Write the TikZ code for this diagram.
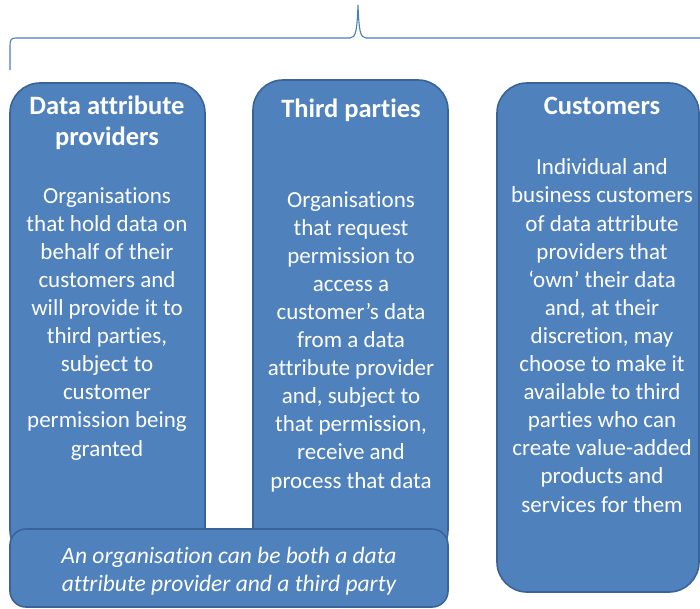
\documentclass[tikz,border=0pt]{standalone}
\usepackage{fontspec}
\setmainfont[Ligatures=NoCommon]{Carlito}
\definecolor{cardfill}{HTML}{4F81BD}
\definecolor{cardline}{HTML}{3A639A}
\definecolor{bracecol}{HTML}{4A7EBB}
\begin{document}
\begin{tikzpicture}[x=1pt,y=-1pt,
  card/.style={fill=cardfill,draw=cardline,line width=1.6pt,rounded corners=30pt},
  notecard/.style={fill=cardfill,draw=cardline,line width=1.6pt,rounded corners=16pt},
  titletext/.style={text=white,align=center,inner sep=0pt,anchor=base,font=\fontsize{26.5}{31}\selectfont\bfseries},
  bodytext/.style={text=white,align=center,inner sep=0pt,anchor=base,font=\fontsize{23}{28.1}\selectfont},
  notetext/.style={text=white,align=center,inner sep=0pt,anchor=base,font=\fontsize{23.5}{28}\selectfont\itshape}]
\useasboundingbox (0,0) rectangle (700,608);
% brace
\coordinate (bl) at (10,70);
\coordinate (bt) at (358,5);
\coordinate (br) at (702,38);
\draw[bracecol,line width=1.1pt] (bl) -- (10,46) .. controls (10,40) and (11,38) .. (16,38)
  -- (350,38) .. controls (356,38) and (357,30) .. (bt)
  .. controls (359,30) and (360,38) .. (366,38) -- (br);
% cards
\path[card] (10,83) rectangle (205,560);
\path[card] (253,80) rectangle (448,560);
\path[card] (497,83) rectangle (699,592);
\path[notecard] (10,529) rectangle (448,607);
% texts (base anchor = baseline of the last line)
\node[titletext] (t1) at (107,145) {Data attribute\\providers};
\node[bodytext] (b1) at (107,456) {Organisations\\that hold data on\\behalf of their\\customers and\\will provide it to\\third parties,\\subject to\\customer\\permission being\\granted};
\node[titletext] (t2) at (351,117) {Third parties};
\node[bodytext] (b2) at (351,488) {Organisations\\that request\\permission to\\access a\\customer’s data\\from a data\\attribute provider\\and, subject to\\that permission,\\receive and\\process that data};
\node[titletext] (t3) at (602,114) {Customers};
\node[bodytext] (b3) at (602,512) {Individual and\\business customers\\of data attribute\\providers that\\‘own’ their data\\and, at their\\discretion, may\\choose to make it\\available to third\\parties who can\\create value-added\\products and\\services for them};
\node[notetext] (n) at (229,591) {An organisation can be both a data\\attribute provider and a third party};
\end{tikzpicture}
\end{document}
